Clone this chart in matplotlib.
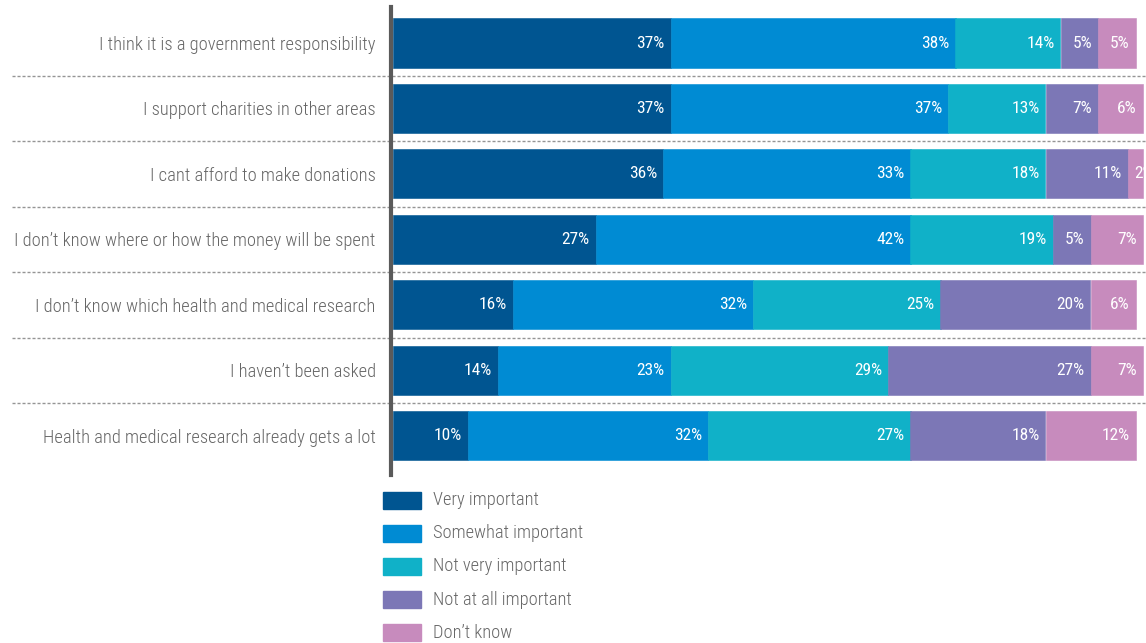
import numpy as np
import matplotlib
matplotlib.use("Agg")
import matplotlib.pyplot as plt
from matplotlib.patches import Rectangle
from matplotlib.transforms import blended_transform_factory

plt.rcParams['font.family'] = ['Roboto Condensed', 'Archivo Narrow', 'Barlow Condensed', 'DejaVu Sans']

categories = [
    "I think it is a government responsibility",
    "I support charities in other areas",
    "I cant afford to make donations",
    "I don\u2019t know where or how the money will be spent",
    "I don\u2019t know which health and medical research",
    "I haven\u2019t been asked",
    "Health and medical research already gets a lot",
]
series = ["Very important", "Somewhat important", "Not very important",
          "Not at all important", "Don\u2019t know"]
very_important = [37, 37, 36, 27, 16, 14, 10]
somewhat_important = [38, 37, 33, 42, 32, 23, 32]
not_very_important = [14, 13, 18, 19, 25, 29, 27]
not_at_all_important = [5, 7, 11, 5, 20, 27, 18]
dont_know = [5, 6, 2, 7, 6, 7, 12]
colors = ["#005591", "#008bd3", "#10b1c8", "#7c77b6", "#c78bbd"]

values = [very_important, somewhat_important, not_very_important,
          not_at_all_important, dont_know]

W, H = 1146, 643
fig = plt.figure(figsize=(W / 100, H / 100), dpi=100)
ax = fig.add_axes([391 / W, 1 - 475 / H, 1 - 391 / W, (475 - 7) / H])

y = np.arange(len(categories))
left = np.zeros(len(categories))
for vals, col in zip(values, colors):
    vals = np.array(vals, dtype=float)
    ax.barh(y, vals, left=left, height=0.75, color=col, edgecolor=col,
            linewidth=0.4, zorder=2)
    for yi, l, v in zip(y, left, vals):
        if v >= 4:
            ax.text(l + v - 0.8, yi, f"{int(v)}%", ha='right', va='center',
                    color='white', fontsize=12.5, zorder=3)
        else:
            ax.text(l + 0.8, yi, f"{int(v)}%", ha='left', va='center',
                    color='white', fontsize=12.5, zorder=3)
    left += vals

ax.set_xlim(-2 / 7.5, (W - 391) / 7.5 - 2 / 7.5)
ax.set_ylim(6.6, -0.55)

# dashed separators across the full width
tr = blended_transform_factory(fig.transFigure, ax.transData)
for i in range(len(categories) - 1):
    ax.plot([12 / W, 1.0], [i + 0.5, i + 0.5], transform=tr, clip_on=False,
            color='#959595', lw=1, linestyle=(0, (2.2, 1.4)), zorder=1)

for s in ['top', 'right', 'bottom']:
    ax.spines[s].set_visible(False)
ax.spines['left'].set_color('#5a5a5a')
ax.spines['left'].set_linewidth(3)
ax.spines['left'].set_zorder(4)
ax.set_xticks([])
ax.set_yticks(y)
ax.set_yticklabels(categories, fontsize=13.3, color='#666666', fontweight='light')
ax.tick_params(axis='y', length=0, pad=11)

# legend
for i, (name, col) in enumerate(zip(series, colors)):
    yc = 500 + i * 33.2
    fig.patches.append(Rectangle((383 / W, 1 - (yc + 8.5) / H), 38 / W, 17 / H,
                                 transform=fig.transFigure, color=col))
    fig.text(433 / W, 1 - yc / H, name, ha='left', va='center',
             fontsize=13.2, color='#666666', fontweight='light')

fig.savefig("out.png", dpi=100)
